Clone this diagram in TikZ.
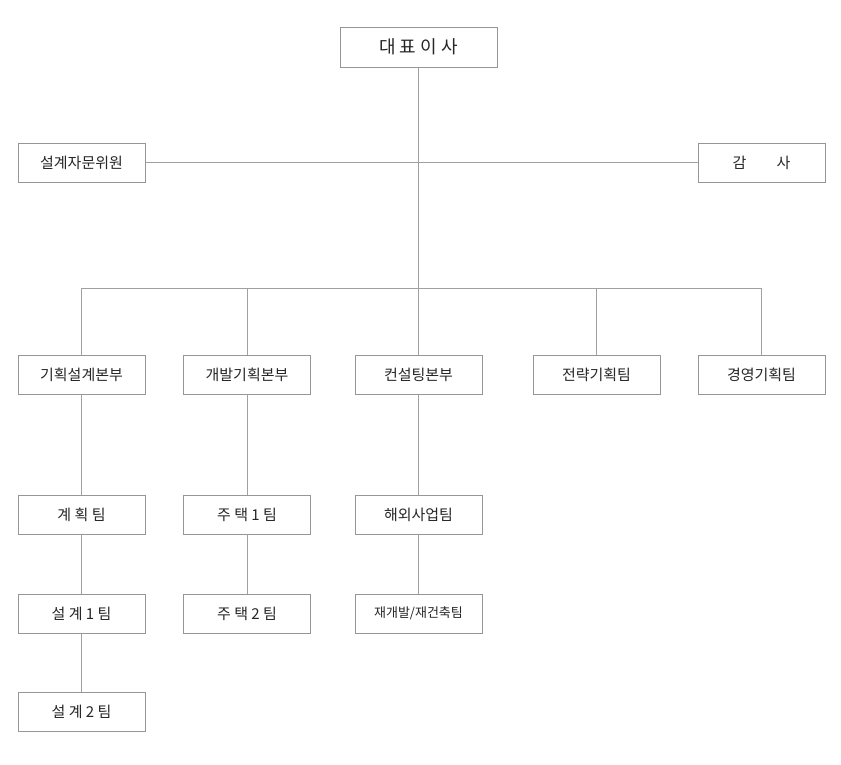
\documentclass[tikz,border=0pt]{standalone}
\usepackage{fontspec}
\newfontfamily\kr{Noto Sans CJK KR}
\definecolor{bx}{RGB}{150,150,150}
\definecolor{ln}{RGB}{160,160,160}
\begin{document}
\begin{tikzpicture}[x=1pt,y=-1pt,
 box/.style={draw=bx,fill=white,minimum width=127pt,minimum height=39pt,inner sep=0pt,font=\kr\fontsize{15}{15}\selectfont,text=black!85},
 con/.style={draw=ln,line width=0.8pt}]
\useasboundingbox (0,0) rectangle (841,764);
\node[box,minimum width=157pt,minimum height=40pt,font=\kr\fontsize{18}{18}\selectfont] (ceo) at (418.5,47) {대 표 이 사};
\node[box] (adv) at (81.5,162.5) {설계자문위원};
\node[box] (aud) at (761.5,162.5) {감\qquad 사};
\node[box] (d1) at (81.5,374.5) {기획설계본부};
\node[box] (d2) at (247,374.5) {개발기획본부};
\node[box] (d3) at (418.5,374.5) {컨설팅본부};
\node[box] (d4) at (596.5,374.5) {전략기획팀};
\node[box] (d5) at (761.5,374.5) {경영기획팀};
\node[box] (t11) at (81.5,514.5) {계 획 팀};
\node[box] (t12) at (81.5,613.5) {설 계 1 팀};
\node[box] (t13) at (81.5,711.5) {설 계 2 팀};
\node[box] (t21) at (247,514.5) {주 택 1 팀};
\node[box] (t22) at (247,613.5) {주 택 2 팀};
\node[box] (t31) at (418.5,514.5) {해외사업팀};
\node[box,font=\kr\fontsize{13}{13}\selectfont] (t32) at (418.5,613.5) {재개발/재건축팀};
\coordinate (bar) at (418.5,288);
\begin{scope}[on background layer/.try]
\end{scope}
\draw[con] (adv.east) -- (aud.west);
\draw[con] (ceo.south) -- (d3.north);
\draw[con] (d1.north) |- (bar) -| (d5.north);
\draw[con] (d2.north) |- (bar);
\draw[con] (d4.north) |- (bar);
\draw[con] (d1) -- (t11) -- (t12) -- (t13);
\draw[con] (d2) -- (t21) -- (t22);
\draw[con] (d3) -- (t31) -- (t32);
\end{tikzpicture}
\end{document}
